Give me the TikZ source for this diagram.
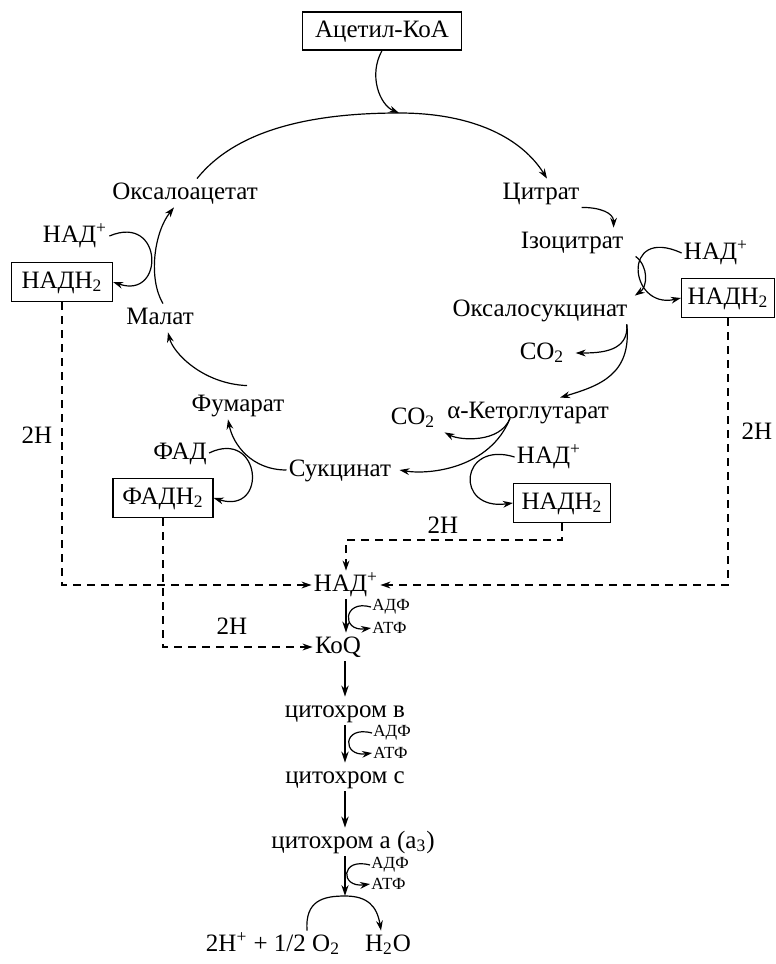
\documentclass[tikz,border=0pt]{standalone}
\usepackage{fontspec}
\setmainfont{Liberation Serif}
\usetikzlibrary{arrows.meta,positioning,calc}

\begin{document}
\begin{tikzpicture}[x=0.5pt, y=-0.5pt,
  font=\fontsize{12.5}{15}\selectfont,
  lbl/.style={inner sep=1pt, text height=9pt, text depth=3pt},
  box/.style={draw, line width=0.6pt, inner xsep=3pt, inner ysep=1pt,
              text height=9pt, text depth=3pt, minimum height=19.5pt},
  atp/.style={inner sep=0.5pt, anchor=west, font=\fontsize{8.5}{9}\selectfont},
  arr/.style={-{Stealth[length=5pt,width=3.4pt]}, line width=0.6pt},
  varr/.style={-{Stealth[length=5.5pt,width=3.6pt]}, line width=0.9pt},
  h2line/.style={-{Stealth[length=5pt,width=3.4pt]}, line width=0.7pt,
                 dash pattern=on 4pt off 3pt}
]
  \useasboundingbox (0,0) rectangle (776,964);

  \node[box, minimum width=79.5pt, minimum height=19pt] (acetyl) at (382,31) {Ацетил-КоА};
  \node[lbl] (oxa)  at (185,193) {Оксалоацетат};
  \node[lbl] (cit)  at (541,193) {Цитрат};
  \node[lbl] (iso)  at (572,242) {Ізоцитрат};
  \node[lbl] (oxs)  at (540,310) {Оксалосукцинат};
  \node[lbl] (co2a) at (542,353) {CO\textsubscript{2}};
  \node[lbl] (akg)  at (528,412) {α-Кетоглутарат};
  \node[lbl] (co2b) at (413,418) {CO\textsubscript{2}};
  \node[lbl] (suc)  at (340,470) {Сукцинат};
  \node[lbl] (fum)  at (238,405) {Фумарат};
  \node[lbl] (mal)  at (160,318) {Малат};

  \node[lbl] (nadL) at (75,236)  {НАД\textsuperscript{+}};
  \node[box, minimum width=50.5pt] (nadhL) at (62,282)  {НАДН\textsubscript{2}};
  \node[lbl] (nadR) at (716,253) {НАД\textsuperscript{+}};
  \node[box, minimum width=46.5pt] (nadhR) at (728,298) {НАДН\textsubscript{2}};
  \node[lbl] (nadM) at (549,457) {НАД\textsuperscript{+}};
  \node[box, minimum width=48.5pt] (nadhM) at (562,503) {НАДН\textsubscript{2}};
  \node[lbl] (fad)  at (180,453) {ФАД};
  \node[box, minimum width=50pt]   (fadh)  at (163,498) {ФАДН\textsubscript{2}};

  \node[lbl] (nadE)  at (346,585) {НАД\textsuperscript{+}};
  \node[lbl] (koq)   at (338,647) {КоQ};
  \node[lbl] (cytb)  at (345,711) {цитохром в};
  \node[lbl] (cytc)  at (345,777) {цитохром с};
  \node[lbl] (cyta)  at (353,842) {цитохром а (а\textsubscript{3})};
  \node[lbl] (hplus) at (273,945) {2H\textsuperscript{+} + 1/2 O\textsubscript{2}};
  \node[lbl] (water) at (388,945) {H\textsubscript{2}O};

  \node[lbl] (hL) at (37,437)  {2H};
  \node[lbl] (hR) at (757,433) {2H};
  \node[lbl] (hM) at (443,527) {2H};
  \node[lbl] (hF) at (232,628) {2H};

  \node[atp] (adp1) at (371,607) {АДФ};
  \node[atp] (atp1) at (371,628) {АТФ};
  \node[atp] (adp2) at (372,733) {АДФ};
  \node[atp] (atp2) at (372,753) {АТФ};
  \node[atp] (adp3) at (370,865) {АДФ};
  \node[atp] (atp3) at (370,884) {АТФ};

  \coordinate (top)  at (399,113);
  \coordinate (peak) at (345,896);

  % cycle
  \draw[arr] (acetyl.south) .. controls +(-14,25) and +(-19,-8) .. (top);
  \draw[arr] ([xshift=6pt]oxa.north) .. controls +(40,-50) and +(-85,0) .. (top)
             .. controls +(75,0) and +(-25,-40) .. ([xshift=3pt]cit.north);
  \draw[arr] (cit.south east) .. controls +(18,0) and +(0,-15) .. ([xshift=-6pt]iso.north east);
  \draw[arr] ([xshift=5pt]iso.south east) .. controls +(13,10) and +(13,-9) .. ([xshift=2.5pt]oxs.north east);
  \draw[arr] (nadR.west) .. controls +(-61,-28) and +(-52,12) .. (nadhR.west);
  \draw[arr] ([xshift=-1.5pt]oxs.south east) .. controls +(2,27) and +(26,0) .. ([xshift=4.5pt]co2a.east);
  \draw[arr] ([xshift=-1.5pt]oxs.south east) .. controls +(5,50) and +(40,-12) .. ([xshift=16pt]akg.north);
  \draw[arr] ([xshift=-9pt,yshift=4pt]akg.south) .. controls +(-10,25) and +(15,8) .. ([xshift=3.5pt]co2b.south east);
  \draw[arr] ([xshift=-9pt,yshift=4pt]akg.south) .. controls +(-20,50) and +(30,5) .. ([xshift=3pt]suc.east);
  \draw[arr] (nadM.west) .. controls +(-55,-17) and +(-59,8) .. (nadhM.west);
  \draw[arr] (suc.west) .. controls +(-35,0) and +(5,25) .. ([xshift=-5pt]fum.south);
  \draw[arr] (fad.east) .. controls +(52,-25) and +(55,17) .. (fadh.east);
  \draw[arr] ([xshift=4.5pt,yshift=2.5pt]fum.north) .. controls +(-45,-2) and +(5,20) .. ([xshift=4pt]mal.south);
  \draw[arr] ([xshift=1.5pt]mal.north) .. controls +(-15,-25) and +(-20,25) .. ([xshift=-5.5pt]oxa.south);
  \draw[arr] (nadL.east) .. controls +(54,-23) and +(52,18) .. (nadhL.east);

  % 2H
  \draw[h2line] (nadhL.south) |- (nadE.west);
  \draw[h2line] (nadhR.south) |- (nadE.east);
  \draw[h2line] (nadhM.south) -- ++(0,17) -| (nadE.north);
  \draw[h2line] (fadh.south) |- (koq.west);

  % chain
  \draw[varr] (nadE.south) -- (nadE.south |- koq.north);
  \draw[varr] (koq.south -| cytb.north) -- (cytb.north);
  \draw[varr] (cytb.south) -- (cytc.north);
  \draw[varr] (cytc.south) -- (cytc.south |- cyta.north);
  \draw[varr] (cytc.south |- cyta.south) -- (peak);
  \draw[arr] (adp1.west) .. controls +(-28,-8) and +(-30,4) .. (atp1.west);
  \draw[arr] (adp2.west) .. controls +(-30,-8) and +(-30,4) .. (atp2.west);
  \draw[arr] (adp3.west) .. controls +(-30,-8) and +(-30,4) .. (atp3.west);
  \draw[arr] ([xshift=17pt]hplus.north) .. controls +(-2,-30) and +(-22,0) .. (peak)
             .. controls +(22,0) and +(-4,-25) .. ([xshift=-3.5pt]water.north);
\end{tikzpicture}
\end{document}
